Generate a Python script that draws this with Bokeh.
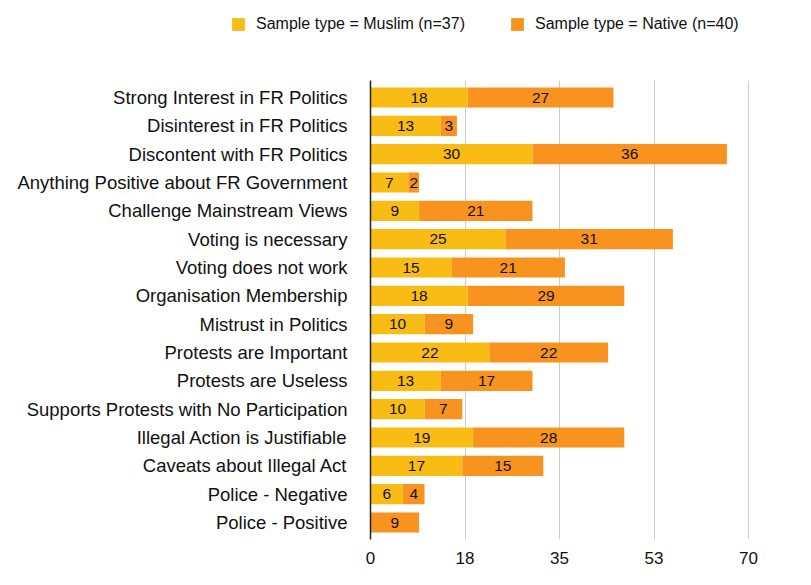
from bokeh.plotting import figure
from bokeh.layouts import column
from bokeh.models import (ColumnDataSource, FactorRange, Range1d, FixedTicker,
                          CustomJSTickFormatter, LabelSet, Legend, LegendItem)
from bokeh.core.properties import value
from bokeh.embed import file_html
from bokeh.resources import INLINE

categories = [
    "Strong Interest in FR Politics",
    "Disinterest in FR Politics",
    "Discontent with FR Politics",
    "Anything Positive about FR Government",
    "Challenge Mainstream Views",
    "Voting is necessary",
    "Voting does not work",
    "Organisation Membership",
    "Mistrust in Politics",
    "Protests are Important",
    "Protests are Useless",
    "Supports Protests with No Participation",
    "Illegal Action is Justifiable",
    "Caveats about Illegal Act",
    "Police - Negative",
    "Police - Positive",
]
muslim = [18, 13, 30, 7, 9, 25, 15, 18, 10, 22, 13, 10, 19, 17, 6, 0]
native = [27, 3, 36, 2, 21, 31, 21, 29, 9, 22, 17, 7, 28, 15, 4, 9]
series_names = ["Sample type = Muslim (n=37)", "Sample type = Native (n=40)"]
x_ticks = [0, 17.5, 35, 52.5, 70]

YELLOW = "#F9BC15"
ORANGE = "#F7931E"
FONT = "Liberation Sans"
W = 803

total = [m + n for m, n in zip(muslim, native)]
src = ColumnDataSource(dict(cat=categories, muslim=muslim, native=native, total=total))

y_range = FactorRange(factors=list(reversed(categories)),
                      range_padding=0.1, range_padding_units="absolute")

p = figure(width=W, height=495, y_range=y_range, x_range=Range1d(0, 80),
           output_backend="svg", toolbar_location=None,
           min_border_left=370, min_border_right=1, min_border_top=0,
           min_border_bottom=36)
p.outline_line_color = None
p.background_fill_color = "white"

r1 = p.hbar(y="cat", left=0, right="muslim", height=0.71, source=src,
            fill_color=YELLOW, line_color=None)
r2 = p.hbar(y="cat", left="muslim", right="total", height=0.71, source=src,
            fill_color=ORANGE, line_color=None)

# value labels
lab_m = dict(cat=[], x=[], t=[])
lab_n = dict(cat=[], x=[], t=[])
for c, m, n in zip(categories, muslim, native):
    if m > 0:
        lab_m["cat"].append(c); lab_m["x"].append(m / 2); lab_m["t"].append(str(m))
    if n > 0:
        lab_n["cat"].append(c); lab_n["x"].append(m + n / 2); lab_n["t"].append(str(n))
for d in (lab_m, lab_n):
    ls = LabelSet(x="x", y="cat", text="t", source=ColumnDataSource(d),
                  text_align="center", text_baseline="middle",
                  text_font=value(FONT), text_font_size="15.5px", text_color="#111111")
    p.add_layout(ls)

# axes
p.xaxis.ticker = FixedTicker(ticks=x_ticks)
p.xaxis.formatter = CustomJSTickFormatter(code="return Math.round(tick).toString();")
p.xaxis.axis_line_color = None
p.xaxis.major_tick_line_color = None
p.xaxis.minor_tick_line_color = None
p.xaxis.major_label_text_font = FONT
p.xaxis.major_label_text_font_size = "17px"
p.xaxis.major_label_text_color = "#111111"
p.xaxis.major_label_standoff = 6

p.yaxis.axis_line_color = "#222222"
p.yaxis.axis_line_width = 1.5
p.yaxis.major_tick_line_color = None
p.yaxis.minor_tick_line_color = None
p.yaxis.major_label_text_font = FONT
p.yaxis.major_label_text_font_size = "18.5px"
p.yaxis.major_label_text_color = "#111111"
p.yaxis.major_label_standoff = 17

p.ygrid.grid_line_color = None
p.xgrid.grid_line_color = "#CCCCCC"
p.xgrid.grid_line_width = 1

# legend strip above the chart (zero-width proxy renderers, outside its visible range)
lg = figure(width=W, height=80, x_range=Range1d(0, 1), y_range=Range1d(0, 1),
            output_backend="svg", toolbar_location=None,
            x_axis_type=None, y_axis_type=None,
            min_border_left=0, min_border_right=0, min_border_top=0, min_border_bottom=0)
lg.frame_align = False
lg.outline_line_color = None
lg.grid.grid_line_color = None
d1 = lg.hbar(y="total", left="total", right="total", height=0, source=src,
             fill_color=YELLOW, line_color=None)
d2 = lg.hbar(y="total", left="total", right="total", height=0, source=src,
             fill_color=ORANGE, line_color=None)
legend = Legend(items=[LegendItem(label=series_names[0], renderers=[d1], index=0),
                       LegendItem(label=series_names[1], renderers=[d2], index=0)],
                orientation="horizontal", location=(230, 47),
                glyph_width=16, glyph_height=16, label_height=16,
                label_standoff=10, spacing=44, padding=0, margin=0,
                border_line_color=None, background_fill_alpha=0,
                label_text_font=FONT, label_text_font_size="16px",
                label_text_color="#111111")
lg.add_layout(legend, "center")

layout = column(lg, p, spacing=0)
open("out.html", "w").write(file_html(layout, INLINE))
